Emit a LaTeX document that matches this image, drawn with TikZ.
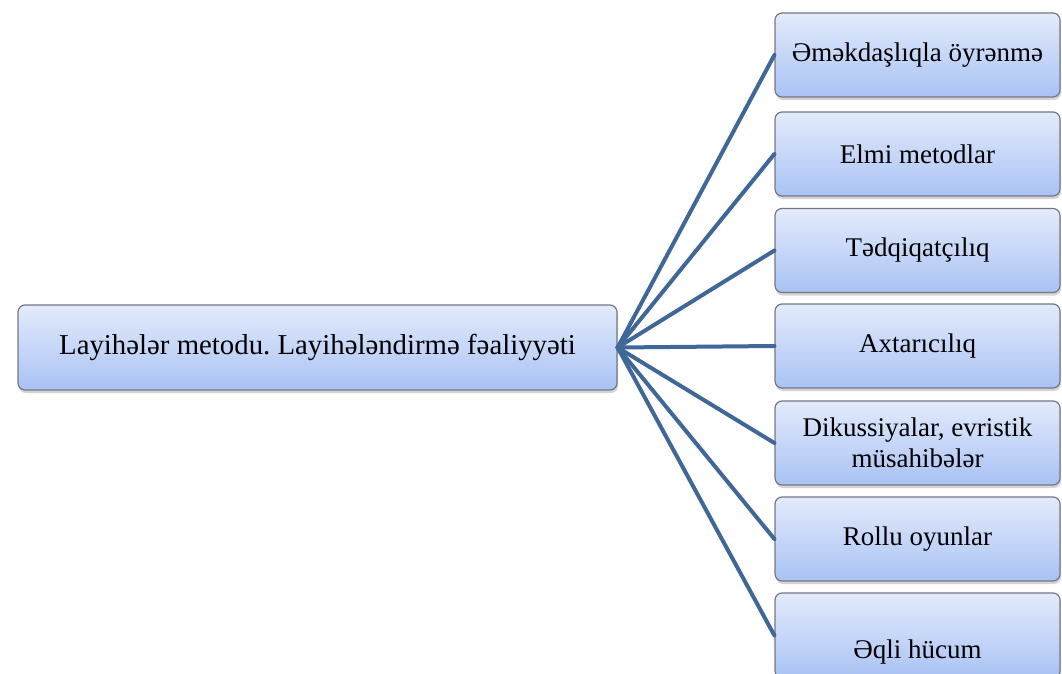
\documentclass[tikz,border=0pt]{standalone}
\usepackage{fontspec}
\setmainfont{Liberation Serif}
\usetikzlibrary{shadows}
\definecolor{linec}{HTML}{3F6797}
\definecolor{boxtop}{HTML}{E3EBFC}
\definecolor{boxbot}{HTML}{A9C2F4}
\definecolor{boxedge}{HTML}{75787E}
\tikzset{
 boxst/.style={draw=boxedge, line width=1.2pt, rounded corners=7pt, top color=boxtop, bottom color=boxbot,
   drop shadow={shadow xshift=1pt, shadow yshift=-3pt, opacity=0.35, fill=gray},
   inner sep=0pt, font=\fontsize{27}{31}\selectfont, align=center},
 rbox/.style={boxst, minimum width=285pt, minimum height=84pt},
 txt/.style={font=\fontsize{27}{31}\selectfont, inner sep=0pt},
 link/.style={draw=linec, line width=4pt, line cap=round}
}
\begin{document}
\frenchspacing
\begin{tikzpicture}[x=1pt,y=-1pt]
\useasboundingbox (0,0) rectangle (1062,674);
\clip (0,0) rectangle (1062,674);
\node[boxst, minimum width=599pt, minimum height=85pt, font=\fontsize{28.8}{33}\selectfont] (main) at (317.5,347.5) {Layihələr metodu. Layihələndirmə fəaliyyəti};
\node[rbox] (b1) at (917.5,55) {Əməkdaşlıqla öyrənmə};
\node[rbox] (b2) at (917.5,154) {Elmi metodlar};
\node[rbox] (b3) at (917.5,250.5) {Tədqiqatçılıq};
\node[rbox] (b4) at (917.5,346) {Axtarıcılıq};
\node[rbox] (b5) at (917.5,443) {Dikussiyalar, evristik\\müsahibələr};
\node[rbox] (b6) at (917.5,539) {Rollu oyunlar};
\node[rbox, minimum height=85pt] (b7) at (917.5,635.5) {};
\node[txt] (t7) at (917.5,652) {Əqli hücum};
\foreach \b in {b1,b2,b3,b4,b5,b6,b7}
  \draw[link] (main.east) -- (\b.west);
\end{tikzpicture}
\end{document}
